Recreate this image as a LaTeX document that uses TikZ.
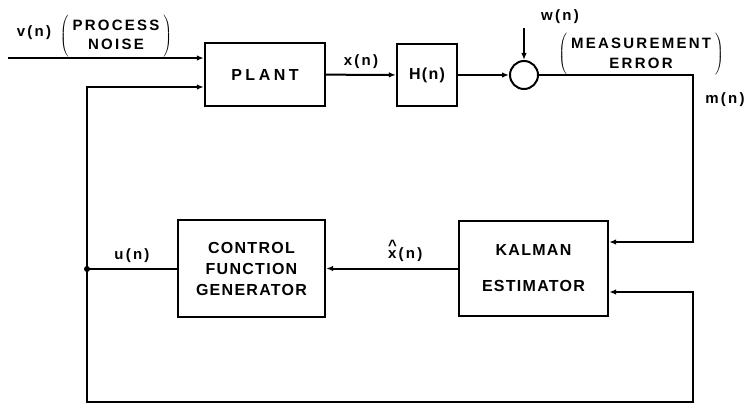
\documentclass[tikz,border=0pt]{standalone}
\usepackage{fontspec}
\setmainfont{Liberation Sans}
\newfontfamily\lettering[LetterSpace=8]{Liberation Sans}
\usetikzlibrary{arrows.meta,positioning}

\begin{document}
\begin{tikzpicture}[x=1pt,y=-1pt,
    block/.style={draw, line width=2.4pt, inner sep=0pt, align=center,
        font=\lettering\bfseries\fontsize{16}{21}\selectfont},
    wire/.style={line width=2pt},
    sig/.style={wire, -{Latex[length=7pt,width=5.5pt]}},
    lab/.style={inner sep=0pt,
        font=\lettering\bfseries\fontsize{15}{20}\selectfont\addfontfeature{LetterSpace=15}}]
    \useasboundingbox (0,0) rectangle (752,404);

    % Blocks
    \node[block, minimum width=120pt, minimum height=63pt] (plant) at (265,74.5) {\addfontfeature{LetterSpace=22}PLANT};
    \node[block, minimum width=60pt, minimum height=62pt] (hbox) at (427,75) {H(n)};
    \node[draw, circle, line width=2pt, minimum size=28pt, inner sep=0pt] (sum) at (524,75) {};
    \node[block, minimum width=147pt, minimum height=97pt] (cfg) at (251.5,268.5) {CONTROL\\FUNCTION\\GENERATOR};
    \node[block, minimum width=149pt, minimum height=95pt] (kalman) at (533.5,268.5) {KALMAN\\[15pt]ESTIMATOR};

    % Corner points of the wiring
    \coordinate (vin) at (8,58);
    \coordinate (wtop) at (524,28);
    \coordinate (mcorner) at (693,75);
    \coordinate (kin1) at (693,242);
    \coordinate (kin2) at (693,292);
    \coordinate (fbright) at (693,402);
    \coordinate (fbleft) at (87,402);
    \coordinate (junc) at (87,269);
    \coordinate (ptop) at (87,87);

    % Forward path
    \draw[sig] (vin) -- (vin -| plant.west);
    \draw[sig] (plant) -- (hbox) node[lab, midway, above=5pt] (xlab) {x(n)};
    \draw[sig] (hbox) -- (sum);
    \draw[sig] (wtop) -- (sum);
    \draw[sig] (sum) -- (mcorner) -- (kin1) -- (kin1 -| kalman.east);

    % Estimate and control
    \draw[sig] (kalman) -- (cfg) node[lab, pos=0.4, above=6pt] (xhatlab) {\makebox[0pt][l]{\raisebox{0.5em}{\textasciicircum}}x(n)};
    \draw[wire] (cfg.west |- junc) -- (junc) node[lab, midway, above=5pt] (ulab) {u(n)};
    \draw[sig] (junc) -- (ptop) -- (ptop -| plant.west);
    \draw[sig] (junc) -- (fbleft) -- (fbright) -- (kin2) -- (kin2 -| kalman.east);
    \fill (junc) circle (3pt);

    % Labels
    \node[lab] (vlab) at (34,33) {v(n)};
    \node[lab] (noise) at (116,36) {$\left(\;\begin{tabular}{@{}c@{}}PROCESS\\NOISE\end{tabular}\;\right)$};
    \node[lab] (wlab) at (560,17) {w(n)};
    \node[lab] (merr) at (641,54) {$\left(\;\begin{tabular}{@{}c@{}}MEASUREMENT\\ERROR\end{tabular}\;\right)$};
    \node[lab] (mlab) at (725,100) {m(n)};
\end{tikzpicture}
\end{document}
